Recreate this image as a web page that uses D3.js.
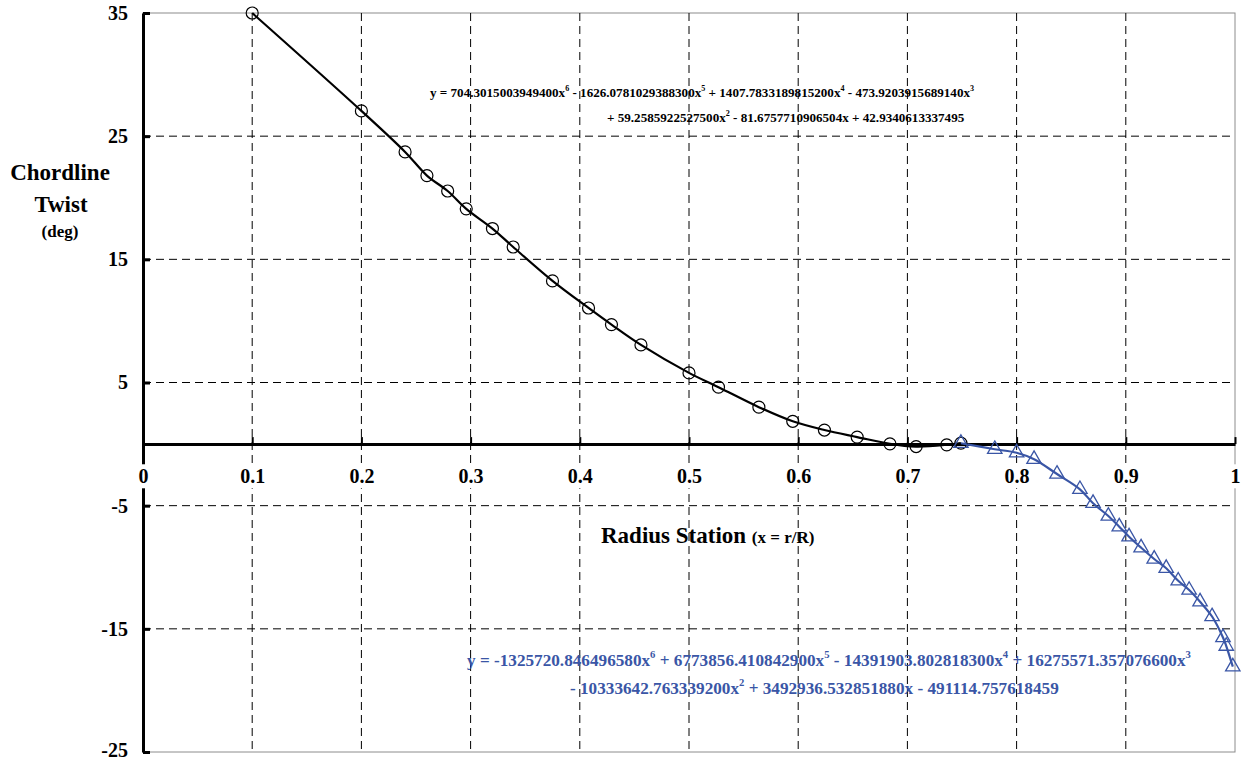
<!DOCTYPE html>
<html>
<head>
<meta charset="utf-8">
<script src="https://cdn.jsdelivr.net/npm/d3@7"></script>
<style>
	body { margin: 0; background: #fff; }
	text { font-family: 'Liberation Serif', 'Times New Roman', serif; font-weight: bold; }
</style>
</head>
<body>
<div id="plot"></div>
<script>
// CHORDLINE TWIST vs RADIUS STATION
var w = 1241;
var h = 761;

// Data Source - inner blade (circles)
var innerX = [0.100, 0.200, 0.240, 0.260, 0.279, 0.296, 0.320, 0.339, 0.375, 0.408, 0.429, 0.456,
	0.500, 0.527, 0.564, 0.595, 0.624, 0.654, 0.684, 0.708, 0.736, 0.749];
var innerTwist = [35.0, 27.05, 23.72, 21.8, 20.55, 19.1, 17.5, 16.0, 13.25, 11.05, 9.7, 8.05,
	5.78, 4.62, 3.0, 1.85, 1.14, 0.57, 0.02, -0.2, -0.06, 0.08];

// Data Source - tip (triangles)
var tipX = [0.749, 0.780, 0.800, 0.816, 0.837, 0.858, 0.870, 0.884, 0.894, 0.903, 0.914, 0.926,
	0.937, 0.948, 0.958, 0.968, 0.979, 0.989, 0.992, 0.998];
var tipTwist = [0.07, -0.42, -0.70, -1.23, -2.43, -3.67, -4.8, -5.84, -6.71, -7.52, -8.41, -9.33,
	-10.08, -11.1, -11.85, -12.8, -14.0, -15.7, -16.4, -18.07];

var xTicks = [0, 0.1, 0.2, 0.3, 0.4, 0.5, 0.6, 0.7, 0.8, 0.9, 1];
var yTicks = [35, 25, 15, 5, -5, -15, -25];

var blue = '#3a56a6';

var x = d3.scaleLinear().domain([0, 1]).range([143, 1235]);
var y = d3.scaleLinear().domain([-25, 35]).range([752, 13]);

var svg = d3.select('#plot').append('svg')
	.attr('width', w)
	.attr('height', h);

// plot area border
svg.append('rect')
	.attr('x', x(0))
	.attr('y', y(35))
	.attr('width', x(1) - x(0))
	.attr('height', y(-25) - y(35))
	.attr('fill', 'none')
	.attr('stroke', '#8c8c8c')
	.attr('stroke-width', 1);

// dashed grid
svg.selectAll('.vgrid')
	.data(xTicks.slice(1, -1))
	.enter()
	.append('line')
	.attr('class', 'vgrid')
	.attr('x1', function (d) { return x(d); })
	.attr('x2', function (d) { return x(d); })
	.attr('y1', y(35))
	.attr('y2', y(-25))
	.attr('stroke', '#000')
	.attr('stroke-width', 1)
	.attr('stroke-dasharray', '8,5');

svg.selectAll('.hgrid')
	.data(yTicks.slice(1, -1))
	.enter()
	.append('line')
	.attr('class', 'hgrid')
	.attr('x1', x(0))
	.attr('x2', x(1))
	.attr('y1', function (d) { return y(d); })
	.attr('y2', function (d) { return y(d); })
	.attr('stroke', '#000')
	.attr('stroke-width', 1)
	.attr('stroke-dasharray', '8,5');

// plain hyphen minus, like the original
function plain (d) { return String(d); }

// y axis (ticks point inwards)
var yAxis = svg.append('g')
	.attr('transform', 'translate(' + x(0) + ',0)')
	.call(d3.axisLeft(y).tickValues(yTicks).tickFormat(plain).tickSizeInner(-7).tickSizeOuter(0).tickPadding(15));
yAxis.select('.domain').attr('stroke', '#000').attr('stroke-width', 3);
yAxis.selectAll('.tick line').attr('stroke-width', 3);
yAxis.selectAll('.tick text')
	.attr('font-size', '20px')
	.attr('fill', '#000')
	.attr('dy', function (d) { return d == -25 ? '0.2em' : '0.32em'; });

// x axis sits on zero
var xAxis = svg.append('g')
	.attr('transform', 'translate(0,' + y(0) + ')')
	.call(d3.axisBottom(x).tickValues(xTicks).tickFormat(plain).tickSizeInner(-7).tickSizeOuter(0).tickPadding(25));
xAxis.select('.domain').attr('stroke', '#000').attr('stroke-width', 3);
xAxis.selectAll('.tick line').attr('stroke-width', 2);
xAxis.selectAll('.tick text')
	.attr('font-size', '20px')
	.attr('fill', '#000');

// white box behind each x label hides the grid behind it
xAxis.selectAll('.tick').each(function () {
	var b = d3.select(this).select('text').node().getBBox();
	d3.select(this).insert('rect', 'text')
		.attr('x', b.x - 4)
		.attr('y', b.y - 1)
		.attr('width', b.width + 8)
		.attr('height', b.height + 2)
		.attr('fill', '#fff');
});

// lines
var line = d3.line()
	.x(function (d) { return x(d[0]); })
	.y(function (d) { return y(d[1]); })
	.curve(d3.curveCatmullRom);

var inner = d3.zip(innerX, innerTwist);
var tip = d3.zip(tipX, tipTwist);

svg.append('path')
	.datum(inner)
	.attr('d', line)
	.attr('fill', 'none')
	.attr('stroke', '#000')
	.attr('stroke-width', 2.2);

svg.append('path')
	.datum(tip)
	.attr('d', line)
	.attr('fill', 'none')
	.attr('stroke', blue)
	.attr('stroke-width', 2.2);

// markers
svg.selectAll('.dot')
	.data(inner)
	.enter()
	.append('circle')
	.attr('class', 'dot')
	.attr('cx', function (d) { return x(d[0]); })
	.attr('cy', function (d) { return y(d[1]); })
	.attr('r', 6)
	.attr('fill', 'none')
	.attr('stroke', '#000')
	.attr('stroke-width', 1.2);

svg.selectAll('.tri')
	.data(tip)
	.enter()
	.append('path')
	.attr('class', 'tri')
	.attr('d', d3.symbol().type(d3.symbolTriangle).size(90))
	.attr('transform', function (d) { return 'translate(' + x(d[0]) + ',' + y(d[1]) + ')'; })
	.attr('fill', 'none')
	.attr('stroke', blue)
	.attr('stroke-width', 1.3);

// axis titles
var yTitle = svg.append('text')
	.attr('text-anchor', 'middle')
	.attr('fill', '#000');
yTitle.append('tspan').attr('x', 60).attr('y', 180).attr('font-size', '23px').text('Chordline');
yTitle.append('tspan').attr('x', 61).attr('y', 212).attr('font-size', '23px').text('Twist');
yTitle.append('tspan').attr('x', 60).attr('y', 237).attr('font-size', '17px').text('(deg)');

var xTitle = svg.append('text')
	.attr('x', 601)
	.attr('y', 543)
	.attr('fill', '#000');
xTitle.append('tspan').attr('font-size', '23px').text('Radius Station ');
xTitle.append('tspan').attr('font-size', '17px').text('(x = r/R)');

// trendline equations, with superscript powers
function equation (parts, px, py, size, color) {
	var t = svg.append('text')
		.attr('x', px)
		.attr('y', py)
		.attr('font-size', size + 'px')
		.attr('fill', color);
	parts.forEach(function (p) {
		if (p.sup) {
			t.append('tspan').attr('dy', -size * 0.45).attr('font-size', (size * 0.62) + 'px').text(p.sup);
			t.append('tspan').attr('dy', size * 0.45).text(p.txt || '');
		} else {
			t.append('tspan').text(p.txt);
		}
	});
}

equation([
	{ txt: 'y = 704.3015003949400x' }, { sup: '6', txt: ' - 1626.0781029388300x' },
	{ sup: '5', txt: ' + 1407.7833189815200x' }, { sup: '4', txt: ' - 473.9203915689140x' }, { sup: '3' }
], 430, 97, 13.1, '#000');
equation([
	{ txt: '+ 59.2585922527500x' }, { sup: '2', txt: ' - 81.6757710906504x + 42.9340613337495' }
], 607, 122, 13.1, '#000');

equation([
	{ txt: 'y = -1325720.846496580x' }, { sup: '6', txt: ' + 6773856.410842900x' },
	{ sup: '5', txt: ' - 14391903.802818300x' }, { sup: '4', txt: ' + 16275571.357076600x' }, { sup: '3' }
], 467, 666, 17.2, blue);
equation([
	{ txt: '- 10333642.763339200x' }, { sup: '2', txt: ' + 3492936.532851880x - 491114.757618459' }
], 570, 694, 17.2, blue);
</script>
</body>
</html>
